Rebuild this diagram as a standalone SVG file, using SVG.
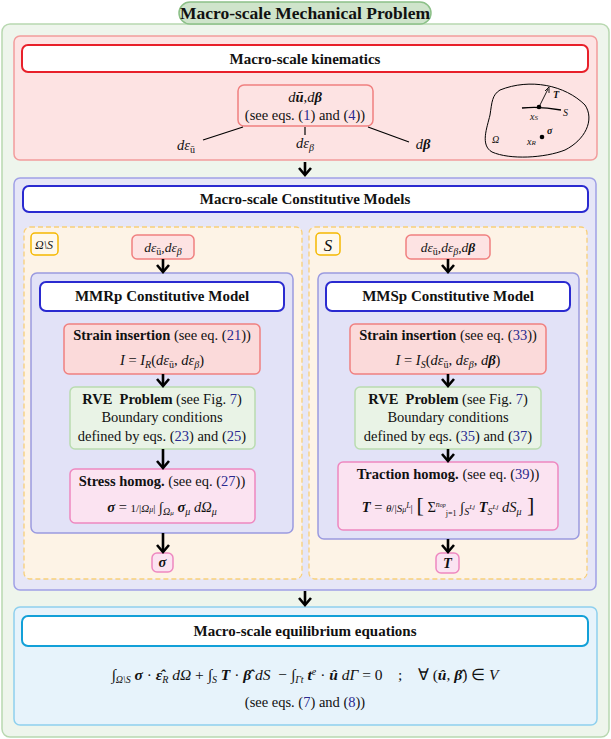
<svg xmlns="http://www.w3.org/2000/svg" width="611" height="739" viewBox="0 0 611 739">
<defs>
<style>
text,tspan{font-family:'Liberation Serif','Times New Roman',serif;}
text{fill:#111;}
.h{font-weight:bold;font-size:15px;text-anchor:middle;}
.t{font-size:14.5px;text-anchor:middle;}
.m{font-style:italic;}
.b{font-weight:bold;}
.r{fill:#2a2a90;}
.s{font-size:10px;}
.arr{stroke:#000;stroke-width:2.6;fill:none;}
</style>
</defs>
<rect x="0" y="0" width="611" height="739" fill="#fff"/>
<g id="outer" font-family="Liberation Serif, serif">
<rect x="2" y="24" width="607" height="713" rx="8" fill="#eef5ec" stroke="#b8d8b0" stroke-width="1.5"/>
<rect x="179" y="2" width="252" height="22" rx="11" fill="#cfe4cb" stroke="#8cc088" stroke-width="1.5"/>
<text x="305" y="19" class="h" style="font-size:17.5px">Macro-scale Mechanical Problem</text>
</g>
<g id="kinematics">
<rect x="14" y="36" width="583" height="124" rx="6" fill="#fde3e3" stroke="#f29c9c" stroke-width="1.5"/>
<rect x="22" y="45" width="566" height="27" rx="6" fill="#fff" stroke="#e8202a" stroke-width="2"/>
<text x="305" y="64" class="h">Macro-scale kinematics</text>
<rect x="238" y="85" width="135" height="41" rx="6" fill="#fde3e3" stroke="#f08080" stroke-width="1.5"/>
<text x="305" y="102" class="t"><tspan class="m">d</tspan><tspan class="b m">ū</tspan>,<tspan class="m">d</tspan><tspan class="b m">β</tspan></text>
<text x="305" y="120" class="t">(see eqs. (<tspan class="r">1</tspan>) and (<tspan class="r">4</tspan>))</text>
<line x1="243" y1="127" x2="203" y2="140" stroke="#000" stroke-width="1.2"/>
<line x1="305" y1="127" x2="305" y2="135" stroke="#000" stroke-width="1.2"/>
<line x1="368" y1="127" x2="409" y2="142" stroke="#000" stroke-width="1.2"/>
<text x="186" y="150" class="t"><tspan class="m">dε</tspan><tspan class="s" dy="3">ū</tspan></text>
<text x="305" y="148" class="t"><tspan class="m">dε</tspan><tspan class="s m" dy="3">β</tspan></text>
<text x="423" y="149" class="t"><tspan class="m">d</tspan><tspan class="b m">β</tspan></text>
</g>
<g id="domain">
<path d="M500,90 C530,78 565,85 585,105 C595,120 585,140 565,150 C545,158 510,160 492,152 C480,145 487,128 490,115 C492,102 492,95 500,90 Z" fill="none" stroke="#000" stroke-width="1"/>
<path d="M522,108 Q540,106 561,110" fill="none" stroke="#000" stroke-width="1.4"/>
<circle cx="539" cy="107" r="2.3" fill="#000"/>
<line x1="539" y1="107" x2="548" y2="89" stroke="#000" stroke-width="0.9"/>
<path d="M545,91 L549,87 L549,93" fill="none" stroke="#000" stroke-width="0.9"/>
<text x="553" y="98" style="font-size:10px" class="b m">T</text>
<text x="563" y="116" style="font-size:10px" class="m">S</text>
<text x="530" y="120" style="font-size:10px" class="m">x<tspan style="font-size:7px">S</tspan></text>
<circle cx="542" cy="137" r="2.3" fill="#000"/>
<text x="547" y="134" style="font-size:10px" class="b m">σ</text>
<text x="527" y="145" style="font-size:10px" class="m">x<tspan style="font-size:7px">R</tspan></text>
<text x="492" y="143" style="font-size:10px" class="m">Ω</text>
</g>
<g id="constitutive">
<rect x="14" y="178" width="582" height="412" rx="6" fill="#e6e6f7" stroke="#a0a0e6" stroke-width="1.5"/>
<rect x="23" y="186" width="565" height="26" rx="6" fill="#fff" stroke="#2a2ad0" stroke-width="2"/>
<text x="305" y="204" class="h">Macro-scale Constitutive Models</text>
</g>
<g id="left">
<rect x="24" y="227" width="278" height="352" rx="6" fill="#fdf3e6" stroke="#f8cf7a" stroke-width="1.3" stroke-dasharray="5,3"/>
<rect x="31" y="233" width="27" height="22" rx="4" fill="#fff8ea" stroke="#f5b800" stroke-width="1.5"/>
<text x="44" y="249" style="font-size:12px;text-anchor:middle" class="m">Ω\S</text>
<rect x="132" y="235" width="62" height="24" rx="5" fill="#fde3e3" stroke="#f08080" stroke-width="1.5"/>
<text x="163" y="252" class="t" style="font-size:13.5px"><tspan class="m">dε</tspan><tspan class="s" dy="3">ū</tspan><tspan dy="-3">,</tspan><tspan class="m">dε</tspan><tspan class="s m" dy="3">β</tspan></text>
<rect x="31" y="273" width="262" height="260" rx="6" fill="#e2e2f7" stroke="#9a9ae0" stroke-width="1.5"/>
<rect x="40" y="282" width="244" height="29" rx="6" fill="#fff" stroke="#2a2ad0" stroke-width="2"/>
<text x="162" y="301" class="h">MMRp Constitutive Model</text>
<rect x="64" y="324" width="196" height="50" rx="5" fill="#fbdada" stroke="#f08080" stroke-width="1.5"/>
<text x="162" y="340" class="t"><tspan class="b">Strain insertion</tspan> (see eq. (<tspan class="r">21</tspan>))</text>
<text x="162" y="365" class="t"><tspan class="m">I</tspan> = <tspan class="m">I</tspan><tspan class="s m" dy="3">R</tspan><tspan dy="-3">(</tspan><tspan class="m">dε</tspan><tspan class="s" dy="3">ū</tspan><tspan dy="-3">, </tspan><tspan class="m">dε</tspan><tspan class="s m" dy="3">β</tspan><tspan dy="-3">)</tspan></text>
<rect x="70" y="387" width="185" height="62" rx="5" fill="#e9f3e6" stroke="#b9dcb0" stroke-width="1.5"/>
<text x="162" y="404" class="t"><tspan class="b">RVE&#160; Problem</tspan> (see Fig. <tspan class="r">7</tspan>)</text>
<text x="162" y="422" class="t">Boundary conditions</text>
<text x="162" y="441" class="t">defined by eqs. (<tspan class="r">23</tspan>) and (<tspan class="r">25</tspan>)</text>
<rect x="70" y="469" width="185" height="54" rx="5" fill="#fbe3f1" stroke="#ee88c0" stroke-width="1.5"/>
<text x="162" y="486" class="t"><tspan class="b">Stress homog.</tspan> (see eq. (<tspan class="r">27</tspan>))</text>
<text x="162" y="512" class="t"><tspan class="b m">σ</tspan> = <tspan style="font-size:11px">1/|</tspan><tspan style="font-size:11px" class="m">Ω</tspan><tspan style="font-size:8px" class="m">μ</tspan><tspan style="font-size:11px">|</tspan> ∫<tspan class="s m" dy="3">Ω</tspan><tspan style="font-size:7px" class="m">μ</tspan><tspan dy="-3"> </tspan><tspan class="b m">σ</tspan><tspan class="s m" dy="3">μ</tspan><tspan dy="-3"> </tspan><tspan class="m">dΩ</tspan><tspan class="s m" dy="3">μ</tspan></text>
<rect x="152" y="553" width="21" height="19" rx="5" fill="#fbe3f1" stroke="#ee88c0" stroke-width="1.5"/>
<text x="162.5" y="567" class="t b m">σ</text>
</g>
<g id="right">
<rect x="309" y="227" width="278" height="352" rx="6" fill="#fdf3e6" stroke="#f8cf7a" stroke-width="1.3" stroke-dasharray="5,3"/>
<rect x="316" y="233" width="24" height="22" rx="4" fill="#fff8ea" stroke="#f5b800" stroke-width="1.5"/>
<text x="328" y="251" style="font-size:17px;text-anchor:middle" class="m">S</text>
<rect x="406" y="235" width="84" height="24" rx="5" fill="#fde3e3" stroke="#f08080" stroke-width="1.5"/>
<text x="448" y="252" class="t" style="font-size:13.5px"><tspan class="m">dε</tspan><tspan class="s" dy="3">ū</tspan><tspan dy="-3">,</tspan><tspan class="m">dε</tspan><tspan class="s m" dy="3">β</tspan><tspan dy="-3">,</tspan><tspan class="m">d</tspan><tspan class="b m">β</tspan></text>
<rect x="318" y="273" width="261" height="266" rx="6" fill="#e2e2f7" stroke="#9a9ae0" stroke-width="1.5"/>
<rect x="326" y="282" width="244" height="29" rx="6" fill="#fff" stroke="#2a2ad0" stroke-width="2"/>
<text x="448" y="301" class="h">MMSp Constitutive Model</text>
<rect x="350" y="324" width="196" height="50" rx="5" fill="#fbdada" stroke="#f08080" stroke-width="1.5"/>
<text x="448" y="340" class="t"><tspan class="b">Strain insertion</tspan> (see eq. (<tspan class="r">33</tspan>))</text>
<text x="448" y="365" class="t"><tspan class="m">I</tspan> = <tspan class="m">I</tspan><tspan class="s m" dy="3">S</tspan><tspan dy="-3">(</tspan><tspan class="m">dε</tspan><tspan class="s" dy="3">ū</tspan><tspan dy="-3">, </tspan><tspan class="m">dε</tspan><tspan class="s m" dy="3">β</tspan><tspan dy="-3">, </tspan><tspan class="m">d</tspan><tspan class="b m">β</tspan>)</text>
<rect x="355" y="387" width="186" height="62" rx="5" fill="#e9f3e6" stroke="#b9dcb0" stroke-width="1.5"/>
<text x="448" y="404" class="t"><tspan class="b">RVE&#160; Problem</tspan> (see Fig. <tspan class="r">7</tspan>)</text>
<text x="448" y="422" class="t">Boundary conditions</text>
<text x="448" y="441" class="t">defined by eqs. (<tspan class="r">35</tspan>) and (<tspan class="r">37</tspan>)</text>
<rect x="338" y="462" width="220" height="68" rx="5" fill="#fbe3f1" stroke="#ee88c0" stroke-width="1.5"/>
<text x="448" y="479" class="t"><tspan class="b">Traction homog.</tspan> (see eq. (<tspan class="r">39</tspan>))</text>
<text x="448" y="512" class="t"><tspan class="b m">T</tspan> = <tspan style="font-size:11px" class="m">θ</tspan><tspan style="font-size:11px">/|</tspan><tspan style="font-size:11px" class="m">S</tspan><tspan style="font-size:8px" class="m">μ</tspan><tspan style="font-size:8px" class="m" dy="-4">L</tspan><tspan style="font-size:11px" dy="4">|</tspan> <tspan style="font-size:22px">[</tspan> Σ<tspan style="font-size:8px" class="m" dy="-5">n</tspan><tspan style="font-size:6px" class="m">op</tspan><tspan style="font-size:8px" dy="9">j=1</tspan><tspan dy="-4"> ∫</tspan><tspan class="s m" dy="3">S</tspan><tspan style="font-size:7px" class="m" dy="-6">Lj</tspan><tspan dy="3"> </tspan><tspan class="b m">T</tspan><tspan class="s m" dy="3">S</tspan><tspan style="font-size:7px" class="m" dy="-6">Lj</tspan><tspan dy="3"> </tspan><tspan class="m">dS</tspan><tspan class="s m" dy="3">μ</tspan><tspan dy="-3" style="font-size:22px"> ]</tspan></text>
<rect x="436" y="553" width="23" height="20" rx="5" fill="#fbe3f1" stroke="#ee88c0" stroke-width="1.5"/>
<text x="447.5" y="568" class="t b m">T</text>
</g>
<g id="equilibrium">
<rect x="14" y="607" width="583" height="118" rx="6" fill="#e7f3fb" stroke="#8fd0ee" stroke-width="1.5"/>
<rect x="22" y="616" width="566" height="30" rx="6" fill="#fff" stroke="#12a0d8" stroke-width="2"/>
<text x="305" y="636" class="h">Macro-scale equilibrium equations</text>
<text x="305" y="680" class="t" style="font-size:15.5px"><tspan>∫</tspan><tspan class="s m" dy="3">Ω\S</tspan><tspan dy="-3"> </tspan><tspan class="b m">σ</tspan> · <tspan class="b m">ε̂</tspan><tspan class="s m" dy="3">R</tspan><tspan dy="-3"> </tspan><tspan class="m">dΩ</tspan> + ∫<tspan class="s m" dy="3">S</tspan><tspan dy="-3"> </tspan><tspan class="b m">T</tspan> · <tspan class="b m">β̂</tspan> <tspan class="m">dS</tspan>&#160; − ∫<tspan class="s m" dy="3">Γt</tspan><tspan dy="-3"> </tspan><tspan class="b m">t</tspan><tspan class="s m" dy="-5">e</tspan><tspan dy="5"> · </tspan><tspan class="b m">û</tspan> <tspan class="m">dΓ</tspan> = 0&#160;&#160;&#160; ;&#160;&#160;&#160; ∀ (<tspan class="b m">û</tspan>, <tspan class="b m">β̂</tspan>) ∈ <tspan class="m">V</tspan></text>
<text x="305" y="707" class="t">(see eqs. (<tspan class="r">7</tspan>) and (<tspan class="r">8</tspan>))</text>
</g>
<g id="connectors">
<g class="arr">
<line x1="305" y1="162" x2="305" y2="174"/><polyline points="299,168 305,175 311,168"/>
<line x1="163" y1="259" x2="163" y2="271"/><polyline points="157,265 163,272 169,265"/>
<line x1="448" y1="259" x2="448" y2="271"/><polyline points="442,265 448,272 454,265"/>
<line x1="163" y1="374" x2="163" y2="385"/><polyline points="157,379 163,386 169,379"/>
<line x1="448" y1="374" x2="448" y2="385"/><polyline points="442,379 448,386 454,379"/>
<line x1="163" y1="449" x2="163" y2="467"/><polyline points="157,461 163,468 169,461"/>
<line x1="448" y1="449" x2="448" y2="460"/><polyline points="442,454 448,461 454,454"/>
<line x1="163" y1="533" x2="163" y2="551"/><polyline points="157,545 163,552 169,545"/>
<line x1="448" y1="539" x2="448" y2="551"/><polyline points="442,545 448,552 454,545"/>
<line x1="305" y1="591" x2="305" y2="604"/><polyline points="299,598 305,605 311,598"/>
</g>
</g>
</svg>
